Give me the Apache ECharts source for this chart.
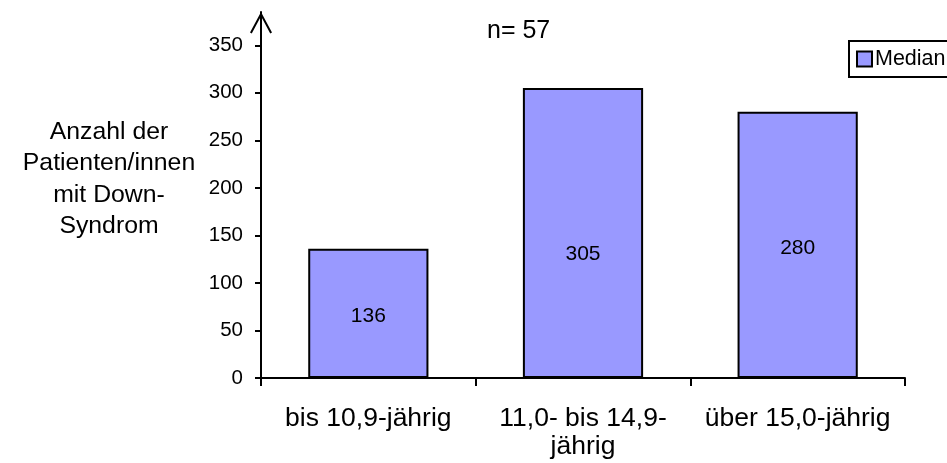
<!DOCTYPE html>
<html>
<head>
<meta charset="utf-8">
<script src="https://cdn.jsdelivr.net/npm/echarts@6/dist/echarts.min.js"></script>
<style>
html,body{margin:0;padding:0;background:#fff;}
#chart{width:947px;height:463px;}
</style>
</head>
<body>
<div id="chart"></div>
<script>
const categories = ['bis 10,9-jährig', '11,0- bis 14,9-\njährig', 'über 15,0-jährig'];
const medianValues = [136, 305, 280];
const yTickValues = [0, 50, 100, 150, 200, 250, 300, 350];
const seriesName = 'Median';
const titleText = 'n= 57';
const yAxisName = 'Anzahl der\nPatienten/innen\nmit Down-\nSyndrom';

const FONT = '"Liberation Sans", Arial, sans-serif';
const chart = echarts.init(document.getElementById('chart'), null, {renderer: 'canvas'});

const labelOffsets = [[0, 3], [0, 21], [0, 3]];
const barData = medianValues.map(function (v, i) {
  return {value: v, label: {offset: labelOffsets[i]}};
});

chart.setOption({
  backgroundColor: '#ffffff',
  animation: false,
  textStyle: {fontFamily: FONT, color: '#000'},
  title: {
    text: titleText,
    left: 482,
    top: 14,
    textStyle: {fontFamily: FONT, fontSize: 25, fontWeight: 'normal', color: '#000'}
  },
  legend: {
    data: [seriesName],
    left: 849,
    top: 41,
    orient: 'vertical',
    padding: [7, 10, 7, 7],
    borderColor: '#000',
    borderWidth: 2,
    itemWidth: 15,
    itemHeight: 15,
    icon: 'rect',
    textStyle: {fontFamily: FONT, fontSize: 21.5, color: '#000', padding: [0, 0, 0, -2]}
  },
  grid: {left: 261, right: 42, top: 12, bottom: 85, containLabel: false},
  xAxis: {
    type: 'category',
    data: categories,
    boundaryGap: true,
    axisLine: {show: true, lineStyle: {color: '#000', width: 2}},
    axisTick: {show: true, length: 8, lineStyle: {color: '#000', width: 2}},
    axisLabel: {color: '#000', fontFamily: FONT, fontSize: 26.5, lineHeight: 28, margin: 27, interval: 0}
  },
  yAxis: {
    type: 'value',
    min: 0,
    max: 385,
    name: yAxisName + '\n ',
    nameLocation: 'middle',
    nameRotate: 0,
    nameGap: 152,
    nameTextStyle: {
      fontFamily: FONT, fontSize: 24.8, lineHeight: 31.5, color: '#000',
      align: 'center', verticalAlign: 'middle'
    },
    splitLine: {show: false},
    axisLine: {
      show: true,
      lineStyle: {color: '#000', width: 2},
      symbol: ['none', 'path://M11,0 L22,20.5 L20.24,21.45 L11,4.26 L1.76,21.45 L0,20.5 Z'],
      symbolSize: [22, 21.5],
      symbolOffset: [0, -10.75]
    },
    axisTick: {show: true, length: 6, lineStyle: {color: '#000', width: 2}, customValues: yTickValues},
    axisLabel: {color: '#000', fontFamily: FONT, fontSize: 20.5, margin: 18, customValues: yTickValues}
  },
  series: [{
    name: seriesName,
    type: 'bar',
    data: barData,
    barWidth: '56%',
    itemStyle: {color: '#9999FF', borderColor: '#000', borderWidth: 2},
    label: {show: true, position: 'inside', color: '#000', fontFamily: FONT, fontSize: 21}
  }]
});
</script>
</body>
</html>
